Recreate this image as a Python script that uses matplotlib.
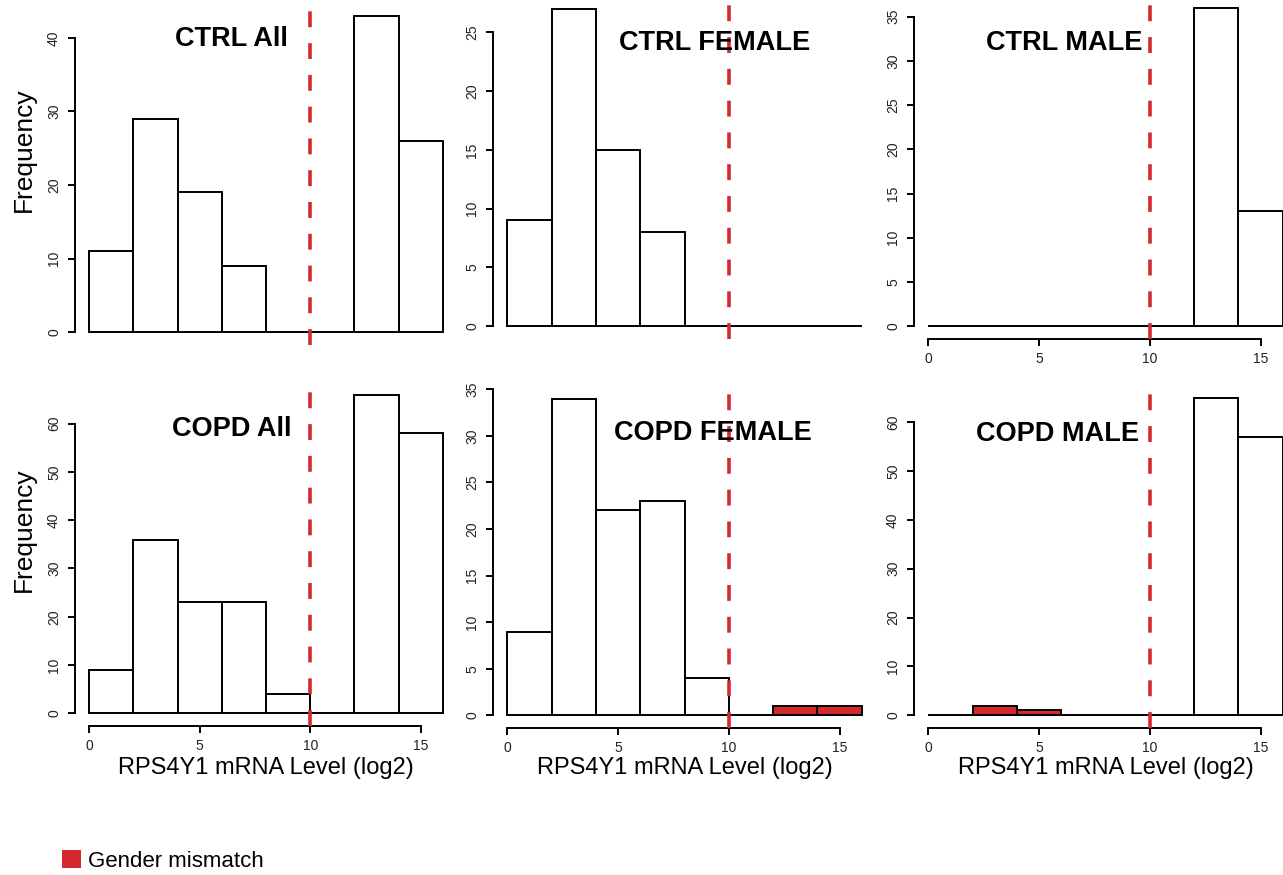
import matplotlib
matplotlib.use('Agg')
import matplotlib.pyplot as plt
from matplotlib.patches import Patch

plt.rcParams['font.family'] = ['Liberation Sans', 'DejaVu Sans']

W, H = 1283, 875
RED = '#d42a2f'

# histogram bins (log2 RPS4Y1 mRNA level)
bin_edges = [0, 2, 4, 6, 8, 10, 12, 14, 16]
cutoff = 10

ctrl_all = [11, 29, 19, 9, 0, 0, 43, 26]
ctrl_female = [9, 27, 15, 8, 0, 0, 0, 0]
ctrl_male = [0, 0, 0, 0, 0, 0, 36, 13]
copd_all = [9, 36, 23, 23, 4, 0, 66, 58]
copd_female = [9, 34, 22, 23, 4, 0, 1, 1]
copd_male = [0, 2, 1, 0, 0, 0, 65, 57]

# bins holding gender-mismatched samples
copd_female_mismatch = [0, 0, 0, 0, 0, 0, 1, 1]
copd_male_mismatch = [0, 1, 1, 0, 0, 0, 0, 0]
no_mismatch = [0] * 8

titles = ['CTRL All', 'CTRL FEMALE', 'CTRL MALE', 'COPD All', 'COPD FEMALE', 'COPD MALE']
counts = [ctrl_all, ctrl_female, ctrl_male, copd_all, copd_female, copd_male]
mismatch = [no_mismatch, no_mismatch, no_mismatch, no_mismatch,
            copd_female_mismatch, copd_male_mismatch]
ytick_step = [10, 5, 5, 10, 5, 10]
show_xaxis = [False, False, True, True, True, True]
show_xlabel = [False, False, False, True, True, True]

# panel boxes in pixels: left, top, right, bottom
boxes = [(75, 3, 457, 345), (493, -4, 876, 339), (914, -5, 1297, 339),
         (75, 382, 457, 726), (493, 386, 876, 728), (914, 385, 1297, 728)]
# title (center x, baseline y) in pixels
title_pos = [(231, 46), (715, 50), (1064, 50), (232, 436), (713, 440), (1058, 441)]

fig = plt.figure(figsize=(W / 100, H / 100), dpi=100)

for i in range(6):
    l, t, r, b = boxes[i]
    ax = fig.add_axes([l / W, 1 - b / H, (r - l) / W, (b - t) / H])
    ymax = max(counts[i])
    lefts = bin_edges[:-1]
    widths = [bin_edges[k + 1] - bin_edges[k] for k in range(8)]
    colors = [RED if m else 'white' for m in mismatch[i]]
    ax.bar(lefts, counts[i], width=widths, align='edge', color=colors,
           edgecolor='black', linewidth=1.4, clip_on=False, zorder=2)
    ax.axvline(cutoff, color=RED, linewidth=2.6, dashes=(4.4, 4.4), zorder=3)

    ax.set_xlim(-0.64, 16.64)
    ax.set_ylim(-0.04 * ymax, 1.04 * ymax)
    step = ytick_step[i]
    top_tick = int(1.04 * ymax // step) * step
    yt = list(range(0, top_tick + 1, step))
    ax.set_yticks(yt)
    ax.spines['left'].set_bounds(0, top_tick)
    ax.spines['top'].set_visible(False)
    ax.spines['right'].set_visible(False)
    for s in ['left', 'bottom']:
        ax.spines[s].set_linewidth(1.4)
    ax.tick_params(axis='y', length=5, width=1.4, pad=5, labelsize=10,
                   labelcolor='#222222', labelrotation=90)
    for lab in ax.get_yticklabels():
        lab.set_va('center')
    if show_xaxis[i]:
        ax.set_xticks([0, 5, 10, 15])
        ax.spines['bottom'].set_bounds(0, 15)
        ax.tick_params(axis='x', length=5, width=1.4, pad=4.5, labelsize=10,
                       labelcolor='#222222')
    else:
        ax.spines['bottom'].set_visible(False)
        ax.set_xticks([])
    if show_xlabel[i]:
        ax.set_xlabel('RPS4Y1 mRNA Level (log2)', fontsize=17)
        ax.xaxis.label.set_va('baseline')
        ax.xaxis.set_label_coords(0.5, (b - 774) / (b - t))
    ax.patch.set_visible(False)

    tx, ty = title_pos[i]
    fig.text(tx / W, 1 - ty / H, titles[i], fontsize=19.5, fontweight='bold',
             ha='center', va='baseline')

fig.text(24 / W, 1 - 150 / H, 'Frequency', fontsize=19, rotation=90,
         ha='center', va='center')
fig.text(24 / W, 1 - 530 / H, 'Frequency', fontsize=19, rotation=90,
         ha='center', va='center')

fig.legend(handles=[Patch(facecolor=RED, edgecolor='none', label='Gender mismatch')],
           loc='center left', bbox_to_anchor=(62 / W, 1 - 861 / H), frameon=False,
           fontsize=16, handlelength=0.85, handleheight=0.85, handletextpad=0.3,
           borderpad=0, borderaxespad=0)

fig.savefig('out.png', dpi=100)
